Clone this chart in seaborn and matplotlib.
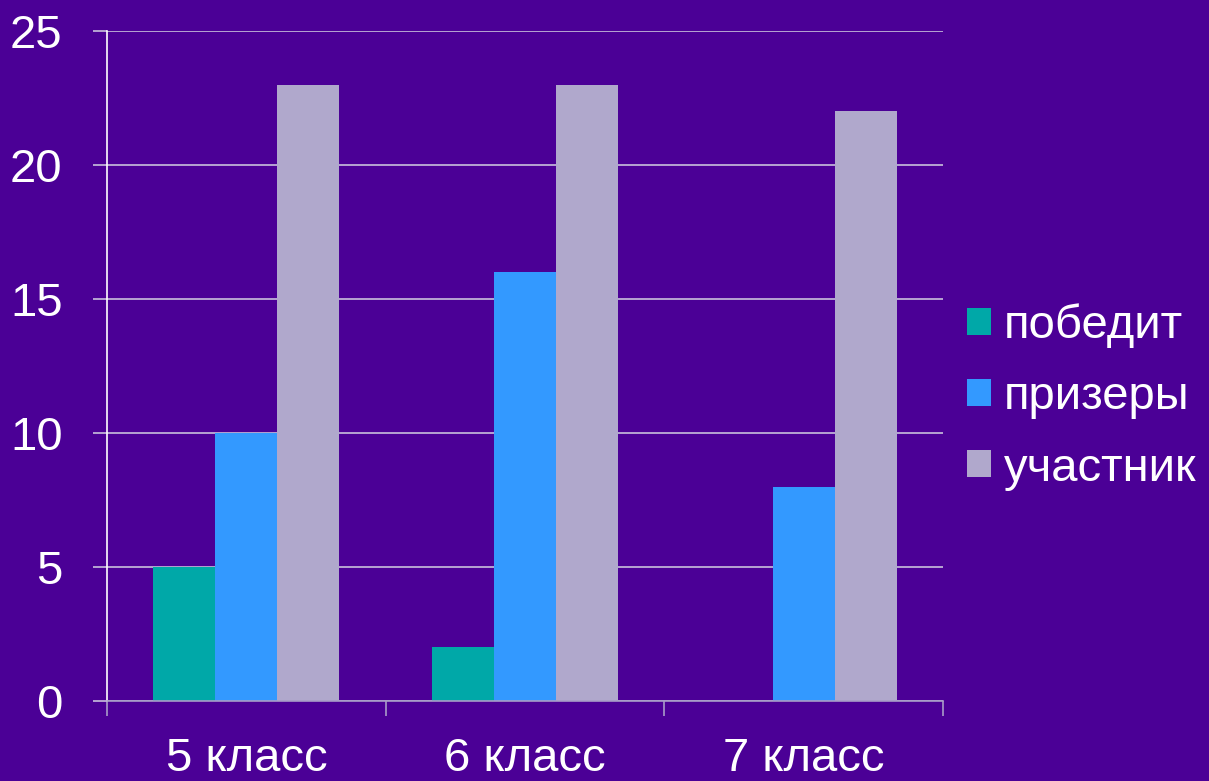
import pandas as pd
import matplotlib
matplotlib.use("Agg")
import matplotlib.pyplot as plt
import seaborn as sns
from matplotlib.ticker import FixedLocator

# data
classes = ["5 класс", "6 класс", "7 класс"]
series_names = ["победит", "призеры", "участник"]
pobedit = [5, 2, 0]
prizery = [10, 16, 8]
uchastnik = [23, 23, 22]
y_ticks = [0, 5, 10, 15, 20, 25]

colors = ["#00A8A8", "#3399FF", "#B0A8CC"]
bg = "#4B0096"

df = pd.DataFrame({
    "класс": classes * 3,
    "серия": [series_names[0]] * 3 + [series_names[1]] * 3 + [series_names[2]] * 3,
    "значение": pobedit + prizery + uchastnik,
})

sns.set_theme(style="white")
plt.rcParams["font.family"] = ["Liberation Sans", "DejaVu Sans"]

fig = plt.figure(figsize=(12.09, 7.81), dpi=100, facecolor=bg)
ax = fig.add_axes([107 / 1209, 1 - 701 / 781, (943 - 107) / 1209, (701 - 31) / 781])
ax.set_facecolor(bg)

sns.barplot(data=df, x="класс", y="значение", hue="серия", order=classes,
            hue_order=series_names, palette=colors, width=0.667,
            saturation=1, linewidth=0, ax=ax)

ax.set_xlim(-0.5, 2.5)
ax.set_ylim(0, 25)
ax.set_yticks(y_ticks)
ax.set_xlabel("")
ax.set_ylabel("")

# grid
grid_col = "#C8C0DC"
ax.yaxis.grid(True, color=grid_col, linewidth=1.2)
ax.set_axisbelow(True)

for s in ["top", "right"]:
    ax.spines[s].set_visible(False)
ax.spines["left"].set_color("white")
ax.spines["left"].set_linewidth(1.2)
ax.spines["bottom"].set_color("#A89CC8")
ax.spines["bottom"].set_linewidth(1.2)

ax.tick_params(axis="y", colors=grid_col, labelcolor="white", labelsize=34,
               length=10, width=1.2, pad=22, direction="out", left=True)
ax.tick_params(axis="x", which="major", length=0, labelcolor="white",
               labelsize=34, pad=26)
ax.xaxis.set_minor_locator(FixedLocator([-0.5, 0.5, 1.5, 2.5]))
ax.tick_params(axis="x", which="minor", bottom=True, length=11, width=1.2,
               color="#A89CC8", direction="out")

leg = ax.legend(loc="center left", bbox_to_anchor=(1.029, 0.454), frameon=False,
                fontsize=34, labelcolor="white", handlelength=0.5,
                handleheight=0.5, handletextpad=0.28, labelspacing=0.58,
                borderpad=0, borderaxespad=0)

fig.savefig("out.png", dpi=100, facecolor=bg)
